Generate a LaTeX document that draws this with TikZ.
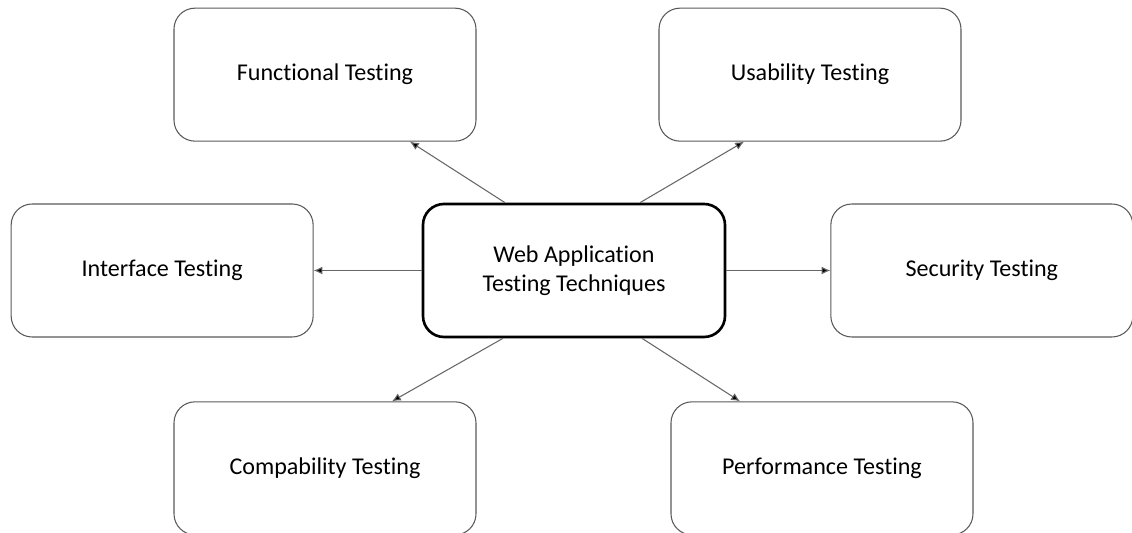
\documentclass[tikz,border=0pt]{standalone}
\usepackage{fontspec}
\setmainfont{Carlito}[Ligatures=NoCommon]
\usepackage{tikz}
\usetikzlibrary{positioning,arrows.meta}
\definecolor{boxgray}{rgb}{.35,.35,.35}
\definecolor{linegray}{rgb}{.4,.4,.4}

\begin{document}
\begin{tikzpicture}[font=\fontsize{13.7}{16.6}\selectfont]
  \useasboundingbox (-11.48,-5.25) rectangle (11.16,5.41);

  \tikzstyle{testbox}=[draw=boxgray,line width=0.6pt,shape=rectangle,rounded corners=0.42cm,minimum width=6.04cm,minimum height=2.66cm,align=center]
  \tikzstyle{mainbox}=[testbox,draw=black,line width=1.5pt]
  \tikzstyle{link}=[draw=linegray,line width=0.6pt,-{Latex[length=5pt,width=4.5pt,fill=black]}]

  \node[mainbox] (web)                                     {Web Application\\Testing Techniques};
  \node[testbox] (iface) [left=2.16cm of web]              {Interface Testing};
  \node[testbox] (secur) [right=2.08cm of web]             {Security Testing};
  \node[testbox] (func)  [above=1.22cm of web,xshift=-4.98cm] {Functional Testing};
  \node[testbox] (usab)  [above=1.22cm of web,xshift=4.72cm]  {Usability Testing};
  \node[testbox] (compa) [below=1.26cm of web,xshift=-4.98cm] {Compability Testing};
  \node[testbox] (perf)  [below=1.26cm of web,xshift=4.96cm]  {Performance Testing};

  \path[link] ([xshift=-1.38cm]web.north) -- ([xshift=1.7cm]func.south);
  \path[link] ([xshift=1.32cm]web.north)  -- ([xshift=-1.32cm]usab.south);
  \path[link] (web.west)                  -- (iface.east);
  \path[link] (web.east)                  -- (secur.west);
  \path[link] ([xshift=-1.42cm]web.south) -- ([xshift=1.34cm]compa.north);
  \path[link] ([xshift=1.36cm]web.south)  -- ([xshift=-1.64cm]perf.north);

\end{tikzpicture}
\end{document}
